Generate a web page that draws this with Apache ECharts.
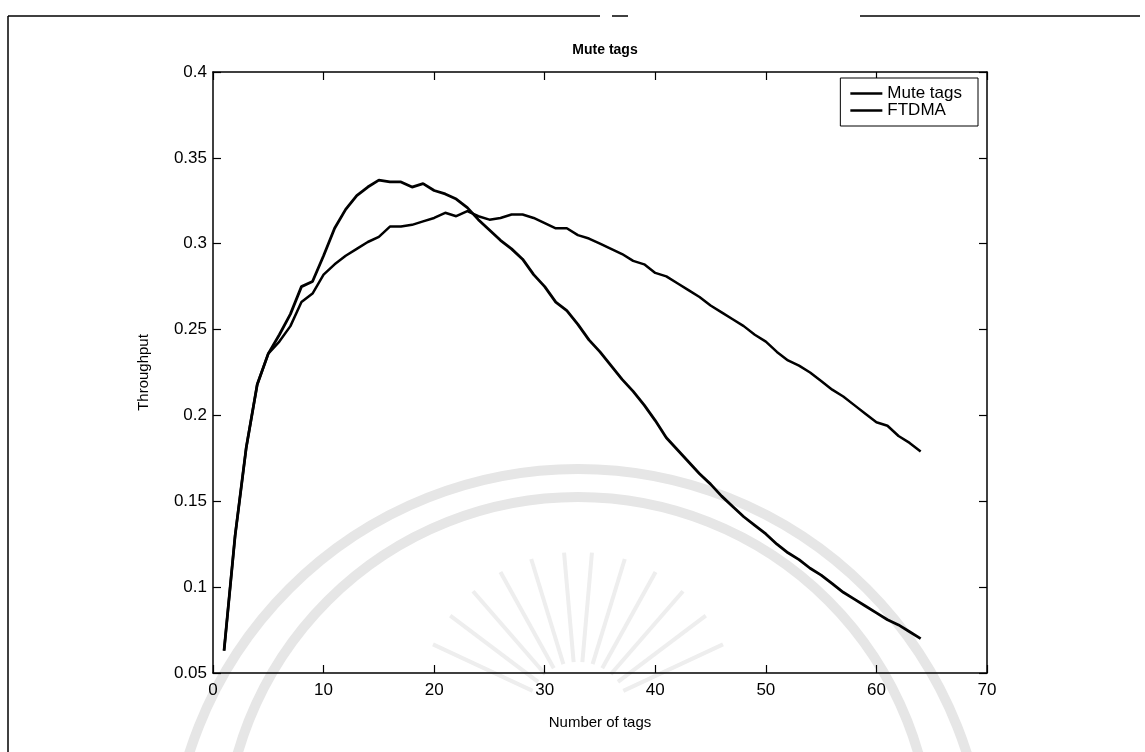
<!DOCTYPE html>
<html>
<head>
<meta charset="utf-8">
<script src="https://cdn.jsdelivr.net/npm/echarts@6/dist/echarts.min.js"></script>
<style>
html,body{margin:0;padding:0;background:#fff;}
#chart{width:1145px;height:752px;}
</style>
</head>
<body>
<div id="chart"></div>
<script>
// Number of tags (x values)
const tags = [1,2,3,4,5,6,7,8,9,10,11,12,13,14,15,16,17,18,19,20,21,22,23,24,25,26,27,28,29,30,31,32,
  33,34,35,36,37,38,39,40,41,42,43,44,45,46,47,48,49,50,51,52,53,54,55,56,57,58,59,60,61,62,63,64];

// Curve with the earlier, higher peak
const ftdma = [0.063,0.130,0.181,0.218,0.236,0.247,0.259,0.275,0.278,0.293,0.309,0.320,0.328,0.333,0.337,0.336,
  0.336,0.333,0.335,0.331,0.329,0.326,0.321,0.314,0.308,0.302,0.297,0.291,0.282,0.275,0.266,0.261,
  0.253,0.244,0.237,0.229,0.221,0.214,0.206,0.197,0.187,0.180,0.173,0.166,0.160,0.153,0.147,0.141,
  0.136,0.131,0.125,0.120,0.116,0.111,0.107,0.102,0.097,0.093,0.089,0.085,0.081,0.078,0.074,0.070];

// Curve with the later, flatter peak
const mute = [0.063,0.130,0.181,0.218,0.236,0.243,0.252,0.266,0.271,0.282,0.288,0.293,0.297,0.301,0.304,0.310,
  0.310,0.311,0.313,0.315,0.318,0.316,0.319,0.316,0.314,0.315,0.317,0.317,0.315,0.312,0.309,0.309,
  0.305,0.303,0.300,0.297,0.294,0.290,0.288,0.283,0.281,0.277,0.273,0.269,0.264,0.260,0.256,0.252,
  0.247,0.243,0.237,0.232,0.229,0.225,0.220,0.215,0.211,0.206,0.201,0.196,0.194,0.188,0.184,0.179];

const seriesNames = ['Mute tags','FTDMA'];
const titleText = 'Mute tags';
const xName = 'Number of tags';
const yName = 'Throughput';

const chart = echarts.init(document.getElementById('chart'), null, {renderer:'canvas'});
const font = 'Liberation Sans, Arial, sans-serif';
const axisCommon = {
  axisLine:{show:true, onZero:false, lineStyle:{color:'#000', width:1.5}},
  axisTick:{show:true, inside:true, length:8, lineStyle:{color:'#000', width:1.2}},
  splitLine:{show:false}
};
const zip = (xs, ys) => xs.map((x,i)=>[x, ys[i]]);

// faint watermark (scanned seal) drawn behind the chart
const wm = '#e6e6e6';
const watermark = [
  {type:'arc', z:-10, silent:true, shape:{cx:578, cy:877, r:408, startAngle:Math.PI, endAngle:2*Math.PI},
    style:{stroke:wm, lineWidth:10, fill:null}},
  {type:'arc', z:-10, silent:true, shape:{cx:578, cy:851, r:354, startAngle:Math.PI, endAngle:2*Math.PI},
    style:{stroke:wm, lineWidth:10, fill:null}}
];
const rayAngles = [205,217,229,241,253,265,275,287,299,311,323,335];
rayAngles.forEach(a=>{
  const t = a*Math.PI/180;
  watermark.push({type:'line', z:-10, silent:true,
    shape:{x1:578+Math.cos(t)*50, y1:712+Math.sin(t)*50, x2:578+Math.cos(t)*160, y2:712+Math.sin(t)*160},
    style:{stroke:'#eeeeee', lineWidth:4}});
});

chart.setOption({
  animation:false,
  backgroundColor:'#fff',
  title:{text:titleText, left:600, top:38, textAlign:'center',
    textStyle:{fontFamily:font, fontSize:14, fontWeight:'bold', color:'#000'}},
  legend:{
    data:seriesNames, orient:'vertical', right:167, top:78, icon:'rect',
    backgroundColor:'#fff', borderColor:'#000', borderWidth:1,
    padding:[7,16,7,10], itemGap:0, itemWidth:32, itemHeight:2.5,
    textStyle:{fontFamily:font, fontSize:17, color:'#000', lineHeight:17}
  },
  grid:{left:213, right:158, top:72, bottom:79, containLabel:false},
  xAxis:[
    Object.assign({type:'value', min:0, max:70, interval:10, position:'bottom',
      name:xName, nameLocation:'middle', nameGap:42,
      nameTextStyle:{fontFamily:font, fontSize:15, color:'#000'},
      axisLabel:{fontFamily:font, fontSize:17, color:'#000', margin:9}}, axisCommon),
    Object.assign({type:'value', min:0, max:70, interval:10, position:'top',
      axisLabel:{show:false}}, axisCommon)
  ],
  yAxis:[
    Object.assign({type:'value', min:0.05, max:0.4, interval:0.05, position:'left',
      name:yName, nameLocation:'middle', nameGap:62,
      nameTextStyle:{fontFamily:font, fontSize:15, color:'#000'},
      axisLabel:{fontFamily:font, fontSize:17, color:'#000', margin:6,
        formatter:v=>String(+v.toFixed(2))}}, axisCommon),
    Object.assign({type:'value', min:0.05, max:0.4, interval:0.05, position:'right',
      axisLabel:{show:false}}, axisCommon)
  ],
  series:[
    {name:seriesNames[0], type:'line', data:zip(tags, mute), symbol:'none', showSymbol:false,
      lineStyle:{color:'#000', width:2.5}, itemStyle:{color:'#000'}},
    {name:seriesNames[1], type:'line', data:zip(tags, ftdma), symbol:'none', showSymbol:false,
      lineStyle:{color:'#000', width:2.8}, itemStyle:{color:'#000'}}
  ],
  graphic:watermark.concat([
    {type:'line', shape:{x1:8, y1:16, x2:8, y2:752}, style:{stroke:'#000', lineWidth:1.5}},
    {type:'line', shape:{x1:8, y1:16, x2:600, y2:16}, style:{stroke:'#000', lineWidth:1.5}},
    {type:'line', shape:{x1:612, y1:16, x2:628, y2:16}, style:{stroke:'#000', lineWidth:1.5}},
    {type:'line', shape:{x1:860, y1:16, x2:1140, y2:16}, style:{stroke:'#000', lineWidth:1.5}}
  ])
});
</script>
</body>
</html>
